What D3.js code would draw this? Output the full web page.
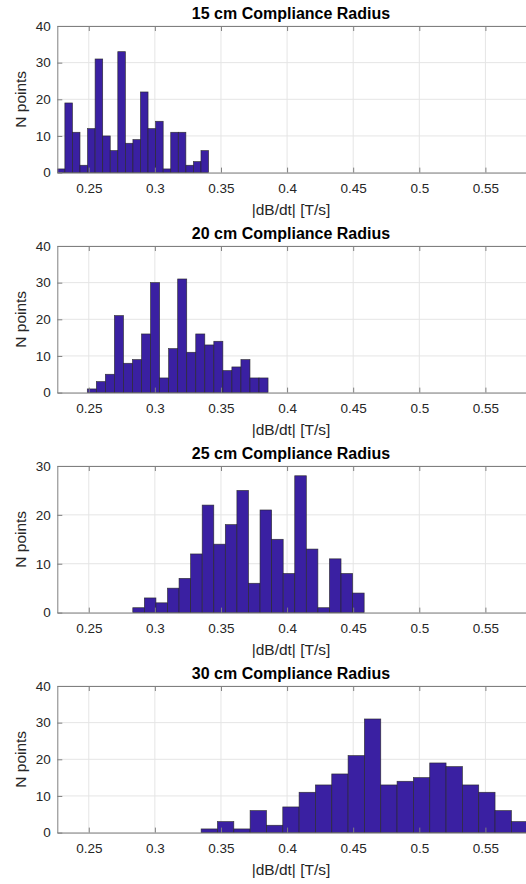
<!DOCTYPE html>
<html>
<head>
<meta charset="utf-8">
<script src="https://cdn.jsdelivr.net/npm/d3@7"></script>
<style>
  html, body { margin: 0; padding: 0; background: #fff; overflow: hidden; }
  svg { display: block; font-family: "Liberation Sans", Arial, Helvetica, sans-serif; }
</style>
</head>
<body>
<svg id="chart" width="526" height="884"></svg>
<script>
// Panel titles
const titles = [
  "15 cm Compliance Radius",
  "20 cm Compliance Radius",
  "25 cm Compliance Radius",
  "30 cm Compliance Radius"
];

// Histogram bin range [first edge, last edge] for each radius (20 equal bins)
const binRange15 = [0.2262, 0.3406];
const binRange20 = [0.2489, 0.3856];
const binRange25 = [0.2833, 0.4583];
const binRange30 = [0.3350, 0.5820];

// Bin counts
const counts15 = [1, 19, 11, 2, 12, 31, 10, 6, 33, 8, 9, 22, 12, 14, 1, 11, 11, 2, 3, 6];
const counts20 = [1, 3, 5, 21, 8, 9, 16, 30, 4, 12, 31, 11, 16, 13, 14, 6, 7, 9, 4, 4];
const counts25 = [1, 3, 2, 5, 7, 12, 22, 14, 18, 25, 6, 21, 15, 8, 28, 13, 1, 11, 8, 4];
const counts30 = [1, 3, 1, 6, 2, 7, 11, 13, 16, 21, 31, 13, 14, 15, 19, 18, 13, 11, 6, 3];

// Axis limits and ticks
const xLimits = [0.2262, 0.582];
const xTicks = [0.25, 0.3, 0.35, 0.4, 0.45, 0.5, 0.55];
const yMax = [40, 40, 30, 40];
const yTicks40 = [0, 10, 20, 30, 40];
const yTicks30 = [0, 10, 20, 30];

const xLabel = "|dB/dt| [T/s]";
const yLabel = "N points";

const panels = [
  { title: titles[0], range: binRange15, counts: counts15, ymax: yMax[0], yticks: yTicks40 },
  { title: titles[1], range: binRange20, counts: counts20, ymax: yMax[1], yticks: yTicks40 },
  { title: titles[2], range: binRange25, counts: counts25, ymax: yMax[2], yticks: yTicks30 },
  { title: titles[3], range: binRange30, counts: counts30, ymax: yMax[3], yticks: yTicks40 }
];

const svg = d3.select("#chart");
const left = 57.3, right = 527.7;
const plotH = 146.6;
const tops = [26, 246, 466, 686];

const barFill = "#3a20a2";
const barEdge = "#262626";
const axisColor = "#808080";
const gridColor = "#e5e5e5";
const textColor = "#262626";

panels.forEach((p, i) => {
  const top = tops[i];
  const bottom = top + plotH;

  const x = d3.scaleLinear().domain(xLimits).range([left, right]);
  const y = d3.scaleLinear().domain([0, p.ymax]).range([bottom, top]);

  const g = svg.append("g");
  const clipId = "clip" + i;
  g.append("clipPath").attr("id", clipId)
    .append("rect").attr("x", left).attr("y", top - 1)
    .attr("width", right - left).attr("height", plotH + 2);

  // grid
  g.append("g").selectAll("line.vg").data(xTicks).join("line")
    .attr("x1", d => x(d)).attr("x2", d => x(d))
    .attr("y1", top).attr("y2", bottom)
    .attr("stroke", gridColor).attr("stroke-width", 1);
  g.append("g").selectAll("line.hg").data(p.yticks).join("line")
    .attr("x1", left).attr("x2", right)
    .attr("y1", d => y(d)).attr("y2", d => y(d))
    .attr("stroke", gridColor).attr("stroke-width", 1);

  // bars
  const n = p.counts.length;
  const w = (p.range[1] - p.range[0]) / n;
  const bins = p.counts.map((c, k) => ({ x0: p.range[0] + k * w, x1: p.range[0] + (k + 1) * w, c }));
  g.append("g").attr("clip-path", `url(#${clipId})`)
    .selectAll("rect").data(bins).join("rect")
    .attr("x", d => x(d.x0)).attr("width", d => x(d.x1) - x(d.x0))
    .attr("y", d => y(d.c)).attr("height", d => y(0) - y(d.c))
    .attr("fill", barFill).attr("stroke", barEdge).attr("stroke-width", 0.7)
    .attr("stroke-opacity", 0.85);

  // x axis (bottom) with inward ticks
  const xAxis = d3.axisBottom(x).tickValues(xTicks).tickSizeInner(-5).tickSizeOuter(0)
    .tickPadding(11).tickFormat(d => String(+d.toFixed(2)));
  const gx = g.append("g").attr("transform", `translate(0,${bottom})`).call(xAxis);
  gx.select(".domain").attr("stroke", axisColor);
  gx.selectAll(".tick line").attr("stroke", axisColor);
  gx.selectAll(".tick text").attr("fill", textColor).attr("font-size", 13.5)
    .attr("font-family", "Liberation Sans, Arial, sans-serif");

  // top border with inward ticks
  const xTop = d3.axisTop(x).tickValues(xTicks).tickSizeInner(-5).tickSizeOuter(0).tickFormat("");
  const gt = g.append("g").attr("transform", `translate(0,${top})`).call(xTop);
  gt.select(".domain").attr("stroke", axisColor);
  gt.selectAll(".tick line").attr("stroke", axisColor);

  // y axis
  const yAxis = d3.axisLeft(y).tickValues(p.yticks).tickSizeInner(-5).tickSizeOuter(0)
    .tickPadding(6.5).tickFormat(d3.format("d"));
  const gy = g.append("g").attr("transform", `translate(${left},0)`).call(yAxis);
  gy.select(".domain").attr("stroke", axisColor);
  gy.selectAll(".tick line").attr("stroke", axisColor);
  gy.selectAll(".tick text").attr("fill", textColor).attr("font-size", 13.5)
    .attr("font-family", "Liberation Sans, Arial, sans-serif");

  // title
  g.append("text").attr("x", 291).attr("y", top - 7)
    .attr("text-anchor", "middle").attr("font-weight", "bold")
    .attr("font-size", 16).attr("fill", "#000").text(p.title);

  // axis labels
  g.append("text").attr("x", 291).attr("y", bottom + 42)
    .attr("text-anchor", "middle").attr("font-size", 15.5)
    .attr("fill", textColor).text(xLabel);
  g.append("text")
    .attr("transform", `translate(26,${(top + bottom) / 2}) rotate(-90)`)
    .attr("text-anchor", "middle").attr("font-size", 15.5)
    .attr("fill", textColor).text(yLabel);
});
</script>
</body>
</html>
